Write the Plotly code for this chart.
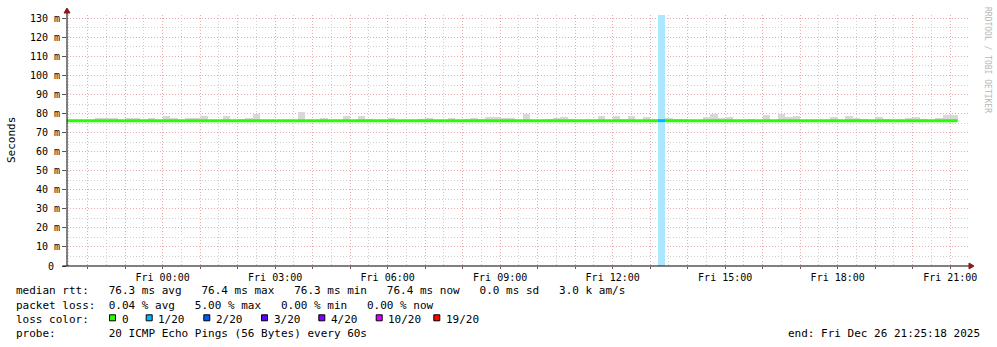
import pandas as pd
import plotly.graph_objects as go

# ---------------- data ----------------
RANGE_START = "2025-12-25 21:27:00"
RANGE_END = "2025-12-26 21:28:27"
BIN_START = "2025-12-25 21:24:00"
BIN_MINUTES = 12
Y_MAX_MS = 131.75

median_ms = [
    76.3, 76.3, 76.4, 76.4, 76.3, 76.3, 76.3, 76.3, 76.3, 76.3,
    76.3, 76.3, 76.3, 76.3, 76.3, 76.3, 76.3, 76.3, 76.3, 76.3,
    76.3, 76.3, 76.3, 76.3, 76.3, 76.3, 76.3, 76.3, 76.3, 76.3,
    76.4, 76.3, 76.3, 76.3, 76.3, 76.3, 76.3, 76.3, 76.3, 76.3,
    76.3, 76.3, 76.3, 76.3, 76.3, 76.3, 76.3, 76.3, 76.3, 76.3,
    76.3, 76.3, 76.3, 76.3, 76.3, 76.3, 76.3, 76.3, 76.3, 76.3,
    76.4, 76.3, 76.3, 76.3, 76.3, 76.3, 76.3, 76.3, 76.4, 76.3,
    76.4, 76.3, 76.3, 76.3, 76.3, 76.3, 76.3, 76.3, 76.3, 76.3,
    76.3, 76.3, 76.3, 76.3, 76.3, 76.3, 76.3, 76.3, 76.3, 76.3,
    76.3, 76.3, 76.3, 76.3, 76.3, 76.3, 76.3, 76.3, 76.3, 76.3,
    76.3, 76.3, 76.3, 76.3, 76.3, 76.3, 76.3, 76.3, 76.3, 76.3,
    76.3, 76.3, 76.3, 76.3, 76.3, 76.3, 76.3, 76.3, 76.3,
]

smoke_top_ms = [
    None, 76.9, None, None, 77.9, 77.5, 77.9, None, 77.5, 77.9,
    None, 77.9, None, 78.6, 77.5, None, 77.9, 77.5, 78.9, None,
    None, 78.5, None, 77.4, 77.9, 79.6, 76.9, 76.9, None, None,
    None, 81.0, None, None, 77.9, None, None, 78.9, None, 78.9,
    77.4, None, None, 77.9, 76.9, None, None, 77.4, 77.9, None,
    None, 77.9, None, 77.4, 77.9, 77.4, 78.4, 78.4, 77.9, 77.9,
    None, 80.0, None, None, 77.4, 77.9, 78.4, 77.0, None, None,
    None, 78.9, None, 78.9, 77.4, 78.9, None, 78.4, 77.2, None,
    77.9, 77.0, 77.4, None, None, 78.4, 79.6, 77.9, 78.4, None,
    None, 77.4, None, 79.3, None, 79.9, 78.4, 78.9, None, None,
    None, None, 78.4, None, 78.9, 77.9, 77.4, None, 78.4, 77.4,
    None, None, 77.9, 78.4, 77.4, None, 77.9, 79.3, 79.3,
]
SMOKE_BASE_MS = 76.0

loss_pings = [
    0, 0, 0, 0, 0, 0, 0, 0, 0, 0,
    0, 0, 0, 0, 0, 0, 0, 0, 0, 0,
    0, 0, 0, 0, 0, 0, 0, 0, 0, 0,
    0, 0, 0, 0, 0, 0, 0, 0, 0, 0,
    0, 0, 0, 0, 0, 0, 0, 0, 0, 0,
    0, 0, 0, 0, 0, 0, 0, 0, 0, 0,
    0, 0, 0, 0, 0, 0, 0, 0, 0, 0,
    0, 0, 0, 0, 0, 0, 0, 0, 0, 1,
    0, 0, 0, 0, 0, 0, 0, 0, 0, 0,
    0, 0, 0, 0, 0, 0, 0, 0, 0, 0,
    0, 0, 0, 0, 0, 0, 0, 0, 0, 0,
    0, 0, 0, 0, 0, 0, 0, 0, 0,
]

loss_labels = ["0", "1/20", "2/20", "3/20", "4/20", "10/20", "19/20"]
loss_thresholds = [0, 1, 2, 3, 4, 10, 19]
loss_colors = ["#26ff00", "#00b8ff", "#0059ff", "#5e00ff", "#7e00ff", "#dd00ff", "#ff0000"]

y_tick_values = [0, 10, 20, 30, 40, 50, 60, 70, 80, 90, 100, 110, 120, 130]
y_tick_labels = ["0\u00a0", "10 m", "20 m", "30 m", "40 m", "50 m", "60 m", "70 m",
                 "80 m", "90 m", "100 m", "110 m", "120 m", "130 m"]
x_label_times = ["2025-12-26 00:00", "2025-12-26 03:00", "2025-12-26 06:00", "2025-12-26 09:00",
                 "2025-12-26 12:00", "2025-12-26 15:00", "2025-12-26 18:00", "2025-12-26 21:00"]
x_tick_labels = ["Fri 00:00", "Fri 03:00", "Fri 06:00", "Fri 09:00",
                 "Fri 12:00", "Fri 15:00", "Fri 18:00", "Fri 21:00"]

stat_lines = [
    "median rtt:   76.3 ms avg   76.4 ms max   76.3 ms min   76.4 ms now   0.0 ms sd   3.0 k am/s",
    "packet loss:  0.04 % avg   5.00 % max   0.00 % min   0.00 % now",
    "loss color:",
    "probe:        20 ICMP Echo Pings (56 Bytes) every 60s",
]
end_text = "end: Fri Dec 26 21:25:18 2025"
watermark = "RRDTOOL / TOBI OETIKER"
y_title = "Seconds"

# ---------------- layout geometry ----------------
W, H = 997, 347
ML, MR, MT, MB = 67, 29, 15, 81
PW = W - ML - MR
PH = H - MT - MB
FONT = "DejaVu Sans Mono"


def px(x):
    return (x - ML) / PW


def py(y):
    return (H - MB - y) / PH


def lighten(hex_color, a=0.33):
    h = hex_color.lstrip("#")
    r, g, b = int(h[0:2], 16), int(h[2:4], 16), int(h[4:6], 16)
    return "rgb(%d,%d,%d)" % tuple(round(255 - (255 - c) * a) for c in (r, g, b))


def loss_color(n):
    idx = 0
    for i, t in enumerate(loss_thresholds):
        if n >= t:
            idx = i
    return loss_colors[idx]


n = len(median_ms)
bin_td = pd.Timedelta(minutes=BIN_MINUTES)
starts = [pd.Timestamp(BIN_START) + bin_td * k for k in range(n)]
ends = [s + bin_td for s in starts]
centers = [s + bin_td / 2 for s in starts]
width_ms = BIN_MINUTES * 60 * 1000

fig = go.Figure()

# loss bars (full height, light colour)
fig.add_trace(go.Bar(
    x=centers, base=0,
    y=[Y_MAX_MS if l > 0 else None for l in loss_pings],
    width=width_ms,
    marker=dict(color=[lighten(loss_color(l)) for l in loss_pings], line=dict(width=0)),
    hoverinfo="skip", showlegend=False,
))

# smoke
fig.add_trace(go.Bar(
    x=centers, base=SMOKE_BASE_MS,
    y=[(t - SMOKE_BASE_MS) if t is not None else None for t in smoke_top_ms],
    width=width_ms,
    marker=dict(color="#d8d8d8", line=dict(width=0)),
    hoverinfo="skip", showlegend=False,
))

# median line, coloured by loss
bin_colors = [loss_color(l) for l in loss_pings]
for c in sorted(set(bin_colors), key=loss_colors.index):
    xs, ys = [], []
    for k in range(n):
        if bin_colors[k] == c:
            xs += [starts[k], ends[k]]
            ys += [median_ms[k], median_ms[k]]
        elif xs and xs[-1] is not None:
            xs.append(None)
            ys.append(None)
    fig.add_trace(go.Scatter(x=xs, y=ys, mode="lines", line=dict(color=c, width=3),
                             hoverinfo="skip", showlegend=False))

# ticks
hour_ticks = pd.date_range("2025-12-25 22:00", "2025-12-26 21:00", freq="1h")
label_map = {pd.Timestamp(t): lab for t, lab in zip(x_label_times, x_tick_labels)}
x_ticktext = [label_map.get(t, "") for t in hour_ticks]

MAJOR = "#e8aaaa"
MINOR = "#cfcfcf"

fig.update_layout(
    width=W, height=H,
    margin=dict(l=ML, r=MR, t=MT, b=MB, pad=0),
    paper_bgcolor="white", plot_bgcolor="white",
    barmode="overlay", bargap=0,
    showlegend=False,
    font=dict(family=FONT, size=10, color="black"),
    xaxis=dict(
        type="date", range=[RANGE_START, RANGE_END], automargin=False,
        tickmode="array", tickvals=list(hour_ticks), ticktext=x_ticktext,
        showgrid=True, gridcolor=MAJOR, griddash="1px,2px", gridwidth=1,
        ticks="outside", ticklen=2, tickcolor="#555", tickangle=0,
        tickfont=dict(family=FONT, size=10, color="black"),
        showline=False, zeroline=False, fixedrange=True,
        minor=dict(tick0="2025-12-25 21:30", dtick=1800000, showgrid=True,
                   gridcolor=MINOR, griddash="1px,2px", gridwidth=1, ticks=""),
    ),
    yaxis=dict(
        range=[0, Y_MAX_MS], automargin=False,
        tickmode="array", tickvals=y_tick_values, ticktext=y_tick_labels,
        showgrid=True, gridcolor=MAJOR, griddash="1px,2px", gridwidth=1,
        ticks="outside", ticklen=4, tickcolor="#555",
        tickfont=dict(family=FONT, size=10, color="black"),
        showline=False, zeroline=False, fixedrange=True,
        minor=dict(dtick=5, tick0=0, showgrid=True, gridcolor=MINOR,
                   griddash="1px,2px", gridwidth=1, ticks=""),
    ),
)

shapes = []
# axis lines
shapes.append(dict(type="line", xref="paper", yref="paper", x0=px(62.5), x1=px(970),
                   y0=0, y1=0, line=dict(color="black", width=1), layer="above"))
shapes.append(dict(type="line", xref="paper", yref="paper", x0=0, x1=0,
                   y0=0, y1=py(12), line=dict(color="black", width=1), layer="above"))
# arrows
AR = "#8b1a1a"
shapes.append(dict(type="path", xref="paper", yref="paper", xsizemode="pixel", ysizemode="pixel",
                   xanchor=0, yanchor=py(8), path="M -3,-5 L 3,-5 L 0,0 Z",
                   fillcolor=AR, line=dict(color=AR, width=1), layer="above"))
shapes.append(dict(type="path", xref="paper", yref="paper", xsizemode="pixel", ysizemode="pixel",
                   xanchor=px(974), yanchor=0, path="M -5,-3 L -5,3 L 0,0 Z",
                   fillcolor=AR, line=dict(color=AR, width=1), layer="above"))

annotations = []
TXT_X = 14  # compensates annotation padding so glyphs start at x=16
# stats text
line_y = [290.5, 305, 319.3, 333.5]
for txt, yy in zip(stat_lines, line_y):
    annotations.append(dict(text=txt.replace(" ", "\u00a0"), xref="paper", yref="paper",
                            x=px(TXT_X), y=py(yy), xanchor="left", yanchor="middle",
                            showarrow=False, font=dict(family=FONT, size=11, color="black")))

# loss colour legend boxes
legend_box_x = [109, 145.7, 203.3, 261, 318.3, 375.7, 433.3]
for bx, lab, col in zip(legend_box_x, loss_labels, loss_colors):
    shapes.append(dict(type="rect", xref="paper", yref="paper",
                       x0=px(bx + 0.5), x1=px(bx + 6.5), y0=py(320.8), y1=py(314.8),
                       fillcolor=col, line=dict(color="black", width=1), layer="above"))
    annotations.append(dict(text=lab, xref="paper", yref="paper", x=px(bx + 10.7), y=py(319.3),
                            xanchor="left", yanchor="middle", showarrow=False,
                            font=dict(family=FONT, size=11, color="black")))

annotations.append(dict(text=end_text.replace(" ", "\u00a0"), xref="paper", yref="paper",
                        x=px(982), y=py(333.5), xanchor="right", yanchor="middle",
                        showarrow=False, font=dict(family=FONT, size=11, color="black")))
annotations.append(dict(text=y_title, xref="paper", yref="paper", x=px(11), y=py(140),
                        xanchor="center", yanchor="middle", textangle=-90, showarrow=False,
                        font=dict(family=FONT, size=11, color="black")))
annotations.append(dict(text=watermark, xref="paper", yref="paper", x=px(987), y=py(60),
                        xanchor="center", yanchor="middle", textangle=90, showarrow=False,
                        font=dict(family=FONT, size=8, color="#b8b8b8")))

fig.update_layout(shapes=shapes, annotations=annotations)
fig.write_html("out.html")
